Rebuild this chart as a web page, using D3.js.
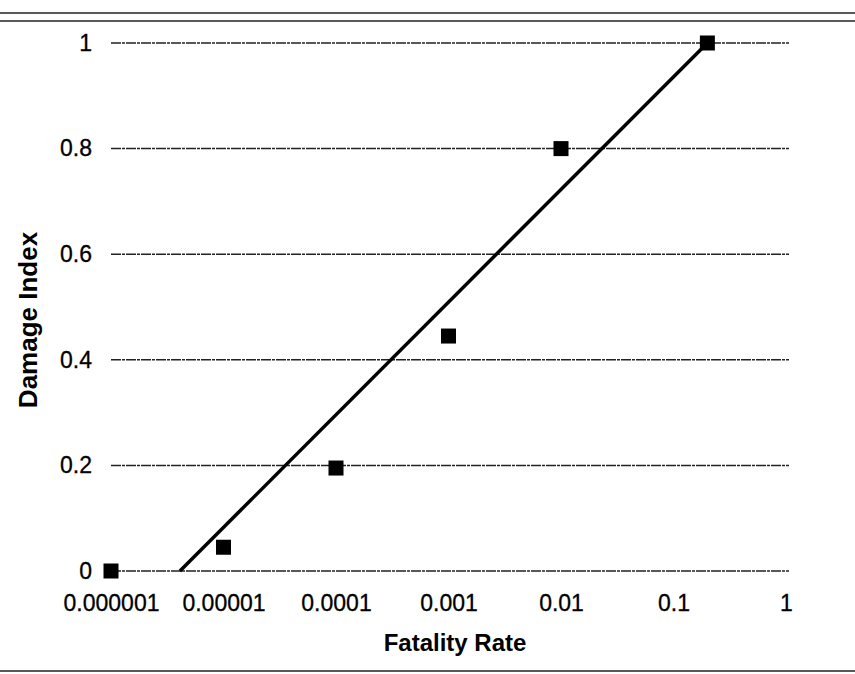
<!DOCTYPE html>
<html>
<head>
<meta charset="utf-8">
<script src="https://cdn.jsdelivr.net/npm/d3@7"></script>
<style>
  html, body { margin: 0; padding: 0; background: #fff; }
  svg { display: block; font-family: "Liberation Sans", Arial, sans-serif; }
</style>
</head>
<body>
<figure id="chart" style="margin:0"></figure>
<script>
// values
const fatalityRate = [0.000001, 0.00001, 0.0001, 0.001, 0.01, 0.2];
const damageIndex = [0, 0.045, 0.195, 0.445, 0.8, 1];
const trendRate = [0.0000041, 0.2];
const trendDamage = [0, 1];
const xTickValues = [0.000001, 0.00001, 0.0001, 0.001, 0.01, 0.1, 1];
const xTickLabels = ["0.000001", "0.00001", "0.0001", "0.001", "0.01", "0.1", "1"];
const yTickValues = [0, 0.2, 0.4, 0.6, 0.8, 1];
const yTickLabels = ["0", "0.2", "0.4", "0.6", "0.8", "1"];

const W = 855, H = 674;
const plotLeft = 111, plotRight = 786, plotTop = 43, plotBottom = 571;

const svg = d3.select("figure#chart")
  .append("svg")
  .attr("width", W)
  .attr("height", H);

// frame lines of the scanned page
svg.append("line").attr("x1", 0).attr("x2", W).attr("y1", 13).attr("y2", 13)
  .attr("stroke", "#222").attr("stroke-width", 1.5);
svg.append("line").attr("x1", 0).attr("x2", W).attr("y1", 21).attr("y2", 21)
  .attr("stroke", "#222").attr("stroke-width", 1.5);
svg.append("line").attr("x1", 0).attr("x2", W).attr("y1", 671).attr("y2", 671)
  .attr("stroke", "#222").attr("stroke-width", 1.5);

const x = d3.scaleLog()
  .domain([0.000001, 1])
  .range([plotLeft, plotRight]);

const y = d3.scaleLinear()
  .domain([0, 1])
  .range([plotBottom, plotTop]);

// horizontal gridlines
svg.append("g")
  .selectAll("line")
  .data(yTickValues)
  .enter()
  .append("line")
  .attr("x1", plotLeft)
  .attr("x2", plotRight + 3)
  .attr("y1", d => y(d))
  .attr("y2", d => y(d))
  .attr("stroke", "#222")
  .attr("stroke-width", 1.5)
  .attr("stroke-dasharray", "10,1,3,1");

// x axis
const xAxis = svg.append("g")
  .attr("transform", "translate(0," + plotBottom + ")")
  .call(d3.axisBottom(x)
    .tickValues(xTickValues)
    .tickFormat((d, i) => xTickLabels[i])
    .tickSize(0)
    .tickPadding(24));
xAxis.select(".domain").remove();
xAxis.selectAll("text")
  .attr("font-size", 23)
  .attr("font-family", "Liberation Sans, Arial, sans-serif")
  .attr("fill", "#000")
  .attr("stroke", "#000")
  .attr("stroke-width", 0.3);

// y axis
const yAxis = svg.append("g")
  .attr("transform", "translate(" + plotLeft + ",0)")
  .call(d3.axisLeft(y)
    .tickValues(yTickValues)
    .tickFormat((d, i) => yTickLabels[i])
    .tickSize(0)
    .tickPadding(19));
yAxis.select(".domain").remove();
yAxis.selectAll("text")
  .attr("font-size", 23)
  .attr("font-family", "Liberation Sans, Arial, sans-serif")
  .attr("fill", "#000")
  .attr("stroke", "#000")
  .attr("stroke-width", 0.3);

// axis titles
svg.append("text")
  .attr("x", 455)
  .attr("y", 651)
  .attr("text-anchor", "middle")
  .attr("font-size", 24)
  .attr("font-weight", "bold")
  .text("Fatality Rate");

svg.append("text")
  .attr("transform", "translate(37,320)rotate(-90)")
  .attr("text-anchor", "middle")
  .attr("font-size", 26)
  .attr("font-weight", "bold")
  .text("Damage Index");

// trend line
const trend = trendRate.map((r, i) => [r, trendDamage[i]]);
svg.append("path")
  .datum(trend)
  .attr("d", d3.line().x(d => x(d[0])).y(d => y(d[1])))
  .attr("fill", "none")
  .attr("stroke", "#000")
  .attr("stroke-width", 3.5);

// data markers
const pts = fatalityRate.map((r, i) => ({ rate: r, damage: damageIndex[i] }));
const s = 15;
svg.selectAll("rect.pt")
  .data(pts)
  .enter()
  .append("rect")
  .attr("class", "pt")
  .attr("x", d => x(d.rate) - s / 2)
  .attr("y", d => y(d.damage) - s / 2)
  .attr("width", s)
  .attr("height", s)
  .attr("fill", "#000");
</script>
</body>
</html>
